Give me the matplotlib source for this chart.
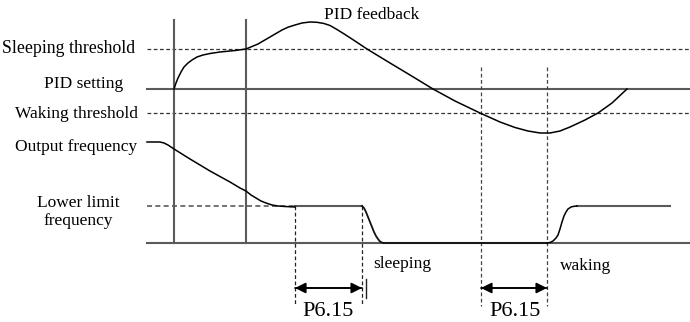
import matplotlib
matplotlib.use("Agg")
import matplotlib.pyplot as plt

# diagram levels (pixel units of the 690x322 picture, y downward)
Y_SLEEP, Y_SET, Y_WAKE, Y_LOW, Y_BASE = 49, 89, 113, 206, 243
X_T1, X_T2 = 174, 246                       # solid time markers
X_D = [295, 362, 481, 547]                  # dashed time markers

# PID feedback curve
fb_x = [174, 176, 178, 181, 184, 188, 192, 197, 203, 210, 220, 235, 246, 252,
        258, 264, 270, 276, 282, 288, 295, 302, 310, 317, 324, 330, 337, 345,
        355, 367, 390, 410, 433, 455, 480, 500, 515, 528, 540, 550, 560, 570,
        585, 598, 612, 627]
fb_y = [89, 83, 78, 72, 67, 63, 60, 57, 55, 53.5, 52, 50.5, 49, 46.5,
        44, 40.5, 37, 33.5, 30, 27.2, 25, 23, 22, 22.3, 23.5, 25.5, 29.5, 34.5,
        41, 49, 63, 75, 89, 101, 113, 122, 127.5, 131, 133, 133, 131, 127,
        120, 113, 103, 89]

# output frequency curve
of_x = [147, 155, 160, 164, 168, 174, 190, 210, 230, 240, 246, 251, 256, 261,
        266, 272, 278, 285, 295]
of_y = [142, 142, 142, 143, 145, 149, 159, 171, 182, 188, 191, 195, 198,
        201, 203, 205, 206, 206.5, 207]
drop_x = [362, 364, 366, 368, 370, 372, 374, 376, 378, 380, 383, 547]
drop_y = [206, 208, 212, 217, 222, 227, 232, 236, 239, 241.5, 243, 243]
rise_x = [547, 550, 553, 556, 558, 560, 562, 564, 566, 568, 571, 574, 577]
rise_y = [243, 242.5, 241, 238, 235, 229, 222, 216, 212, 209, 207, 206.3, 206]

LINE = "#5a5a5a"
plt.rcParams["font.family"] = ["Liberation Serif", "DejaVu Serif"]

fig = plt.figure(figsize=(6.9, 3.22), dpi=100)
ax = fig.add_axes([0, 0, 1, 1])
ax.set_xlim(0, 690)
ax.set_ylim(322, 0)
ax.axis("off")

# horizontal guides
ax.plot([147, 690], [Y_SLEEP, Y_SLEEP], color="#333", lw=0.9, ls=(0, (3, 2)))
ax.plot([147, 690], [Y_WAKE, Y_WAKE], color="#333", lw=0.9, ls=(0, (3, 2)))
ax.plot([147, 690], [Y_SET, Y_SET], color=LINE, lw=1.5)
ax.plot([147, 295], [Y_LOW, Y_LOW], color=LINE, lw=1.2, ls=(0, (3, 2)))
ax.plot([295, 362], [Y_LOW, Y_LOW], color=LINE, lw=1.5)
ax.plot([577, 670], [Y_LOW, Y_LOW], color=LINE, lw=1.5)
ax.plot([147, 690], [Y_BASE, Y_BASE], color=LINE, lw=1.5)

# vertical markers
for x in (X_T1, X_T2):
    ax.plot([x, x], [20, Y_BASE], color=LINE, lw=1.5)
ax.plot([X_D[0], X_D[0]], [Y_LOW, 306], color="#222", lw=0.9, ls=(0, (3, 2)))
ax.plot([X_D[1], X_D[1]], [Y_LOW, 306], color="#222", lw=0.9, ls=(0, (3, 2)))
ax.plot([X_D[2], X_D[2]], [67, 306], color="#444", lw=0.9, ls=(0, (3, 2)))
ax.plot([X_D[3], X_D[3]], [67, 306], color="#444", lw=0.9, ls=(0, (3, 2)))
ax.plot([366, 366], [279, 298], color="#222", lw=1.0)

# curves
ax.plot(fb_x, fb_y, color="black", lw=1.1)
ax.plot(of_x, of_y, color="black", lw=1.1)
ax.plot(drop_x, drop_y, color="#111", lw=1.3)
ax.plot(rise_x, rise_y, color="black", lw=1.1)

# P6.15 arrows
arrow = dict(arrowstyle="-|>", color="black", lw=1.2, mutation_scale=16,
             shrinkA=0, shrinkB=0)
ax.annotate("", xy=(X_D[0], 288), xytext=(X_D[1], 288), arrowprops=arrow)
ax.annotate("", xy=(X_D[1], 288), xytext=(X_D[0], 288), arrowprops=arrow)
ax.annotate("", xy=(X_D[2], 288), xytext=(X_D[3], 288), arrowprops=arrow)
ax.annotate("", xy=(X_D[3], 288), xytext=(X_D[2], 288), arrowprops=arrow)

fs = 12.5
ax.text(372, 15, "PID feedback", fontsize=fs, ha="center", va="center")
ax.text(135, 48, "Sleeping threshold", fontsize=fs + 0.3, ha="right", va="center")
ax.text(84, 84, "PID setting", fontsize=fs, ha="center", va="center")
ax.text(138, 114, "Waking threshold", fontsize=fs, ha="right", va="center")
ax.text(137, 147, "Output frequency", fontsize=fs, ha="right", va="center")
ax.text(78, 212, "Lower limit\nfrequency", fontsize=fs, ha="center",
        va="center", linespacing=1.1)
ax.text(373, 264, "sleeping", fontsize=fs, ha="left", va="center")
ax.text(560, 266, "waking", fontsize=fs, ha="left", va="center")
ax.text(328, 312, "P6.15", fontsize=16, ha="center", va="center")
ax.text(515, 312, "P6.15", fontsize=16, ha="center", va="center")

fig.savefig("out.png", dpi=100, facecolor="white")
